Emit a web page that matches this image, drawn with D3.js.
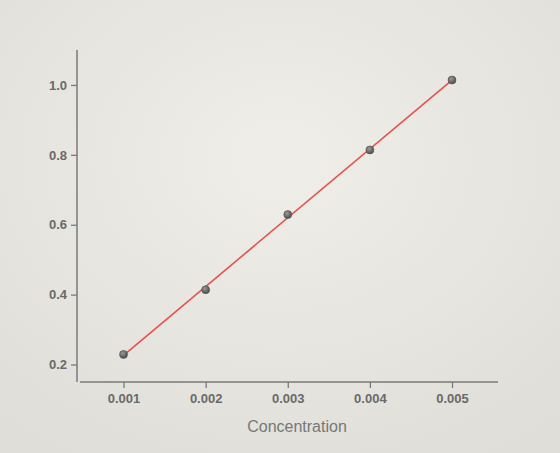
<!DOCTYPE html>
<html>
<head>
<meta charset="utf-8">
<script src="https://cdn.jsdelivr.net/npm/d3@7"></script>
<style>
  html, body { margin: 0; padding: 0; }
  body { width: 560px; height: 453px; background: #e8e7e2; overflow: hidden; }
  svg { display: block; }
</style>
</head>
<body>
<svg id="chart"></svg>
<script>
// data
const concentration = [0.001, 0.002, 0.003, 0.004, 0.005];
const absorbance = [0.229, 0.414, 0.629, 0.814, 1.014];
const xTicks = [0.001, 0.002, 0.003, 0.004, 0.005];
const yTicks = [0.2, 0.4, 0.6, 0.8, 1.0];

const W = 560, H = 453;
const svg = d3.select("#chart").attr("width", W).attr("height", H);

// soft photographic background
const defs = svg.append("defs");
const bg = defs.append("radialGradient").attr("id", "bg")
  .attr("cx", "50%").attr("cy", "35%").attr("r", "75%");
bg.append("stop").attr("offset", "0%").attr("stop-color", "#efeee9");
bg.append("stop").attr("offset", "100%").attr("stop-color", "#dfded8");
const dot = defs.append("radialGradient").attr("id", "dot")
  .attr("cx", "40%").attr("cy", "35%").attr("r", "65%");
dot.append("stop").attr("offset", "0%").attr("stop-color", "#9a9a9a");
dot.append("stop").attr("offset", "100%").attr("stop-color", "#4a4a4a");
svg.append("rect").attr("width", W).attr("height", H).attr("fill", "url(#bg)");

// scales
const x = d3.scaleLinear().domain([0.00047, 0.00556]).range([80, 498]);
const y = d3.scaleLinear().domain([0.15, 1.1]).range([382, 50]);

const axisColor = "#7a7a7a";
const textColor = "#6a6a6a";

// y axis
const gy = svg.append("g")
  .attr("transform", "translate(77,0)")
  .call(d3.axisLeft(y).tickValues(yTicks).tickFormat(d3.format(".1f")).tickSize(6).tickPadding(4));
// x axis
const gx = svg.append("g")
  .attr("transform", "translate(0,382)")
  .call(d3.axisBottom(x).tickValues(xTicks).tickFormat(d3.format(".3f")).tickSize(6).tickPadding(6));

[gx, gy].forEach(g => {
  g.select(".domain").attr("stroke", axisColor).attr("stroke-width", 1.5);
  g.selectAll(".tick line").attr("stroke", axisColor).attr("stroke-width", 1.3);
  g.selectAll(".tick text")
    .attr("fill", textColor)
    .style("font-family", "Liberation Sans, Arial, sans-serif")
    .style("font-size", "13px")
    .style("font-weight", "bold");
});
gy.select(".domain").attr("d", `M0,${y.range()[1]}V${y.range()[0]}`);
gx.select(".domain").attr("d", `M${x.range()[0]},0H${x.range()[1]}`);

// x axis title
svg.append("text")
  .attr("x", 297).attr("y", 432)
  .attr("text-anchor", "middle")
  .attr("fill", "#777")
  .style("font-family", "Liberation Sans, Arial, sans-serif")
  .style("font-size", "16px")
  .text("Concentration");

// least squares fit line
const mx = d3.mean(concentration), my = d3.mean(absorbance);
const slope = d3.sum(concentration, (c, i) => (c - mx) * (absorbance[i] - my)) /
  d3.sum(concentration, c => (c - mx) * (c - mx));
const icpt = my - slope * mx;
const ext = d3.extent(concentration);
svg.append("line")
  .attr("x1", x(ext[0])).attr("y1", y(icpt + slope * ext[0]))
  .attr("x2", x(ext[1])).attr("y2", y(icpt + slope * ext[1]))
  .attr("stroke", "#e8524a").attr("stroke-width", 1.6);

// points
svg.append("g")
  .selectAll("circle")
  .data(concentration)
  .enter()
  .append("circle")
  .attr("cx", d => x(d))
  .attr("cy", (d, i) => y(absorbance[i]))
  .attr("r", 4)
  .attr("fill", "url(#dot)")
  .attr("stroke", "#555")
  .attr("stroke-width", 0.6);
</script>
</body>
</html>
